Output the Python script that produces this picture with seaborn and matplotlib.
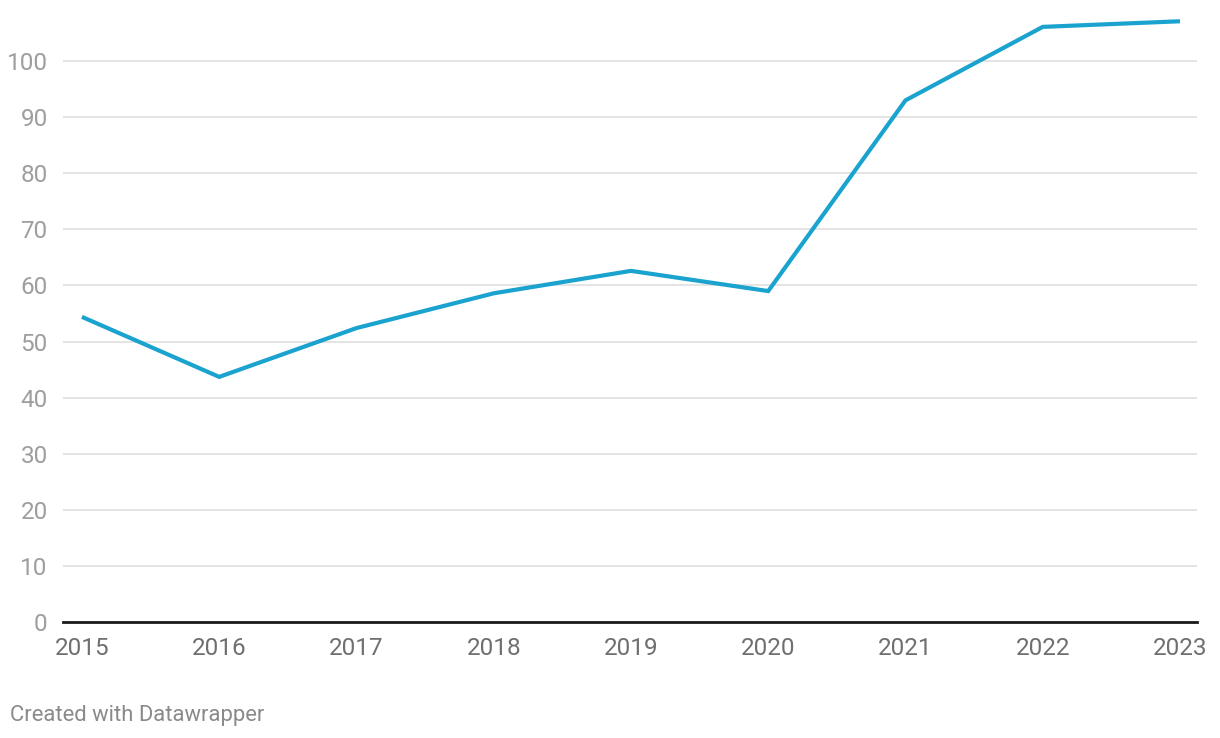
import numpy as np
import pandas as pd
import seaborn as sns
import matplotlib
matplotlib.use('Agg')
import matplotlib.pyplot as plt

years = [2015, 2016, 2017, 2018, 2019, 2020, 2021, 2022, 2023]
values = [54.4, 43.7, 52.4, 58.6, 62.6, 59.0, 93.0, 106.1, 107.1]
y_ticks = [0, 10, 20, 30, 40, 50, 60, 70, 80, 90, 100]

df = pd.DataFrame({'year': years, 'value': values})

sns.set_theme(style='white')
plt.rcParams['font.family'] = ['Roboto', 'DejaVu Sans']

fig = plt.figure(figsize=(12.2, 7.38), dpi=100)
ax = fig.add_axes([63/1220, 116/738, 1134/1220, 617/738])

sns.lineplot(data=df, x='year', y='value', ax=ax, color='#1ba3cf',
             linewidth=3.0, solid_joinstyle='miter', solid_capstyle='butt')

ax.set_xlim(2014.862, 2023.124)
ax.set_ylim(0, 110)
ax.set_yticks(y_ticks)
ax.set_xticks(years)
ax.set_xticklabels([str(y) for y in years])
ax.grid(axis='y', color='#e2e2e2', linewidth=1.3)
ax.set_axisbelow(True)
for s in ['top', 'right', 'left']:
    ax.spines[s].set_visible(False)
ax.spines['bottom'].set_color('#1a1a1a')
ax.spines['bottom'].set_linewidth(2)
ax.spines['bottom'].set_zorder(3)
ax.tick_params(axis='y', length=0, pad=11, labelsize=17.5, labelcolor='#9e9e9e')
ax.tick_params(axis='x', length=0, pad=11, labelsize=17.5, labelcolor='#6f6f6f')
ax.set_xlabel('')
ax.set_ylabel('')

fig.text(10/1220, 1 - 715/738, 'Created with Datawrapper', fontsize=15.8,
         color='#8a8a8a', va='center', ha='left')

fig.savefig('out.png', dpi=100)
